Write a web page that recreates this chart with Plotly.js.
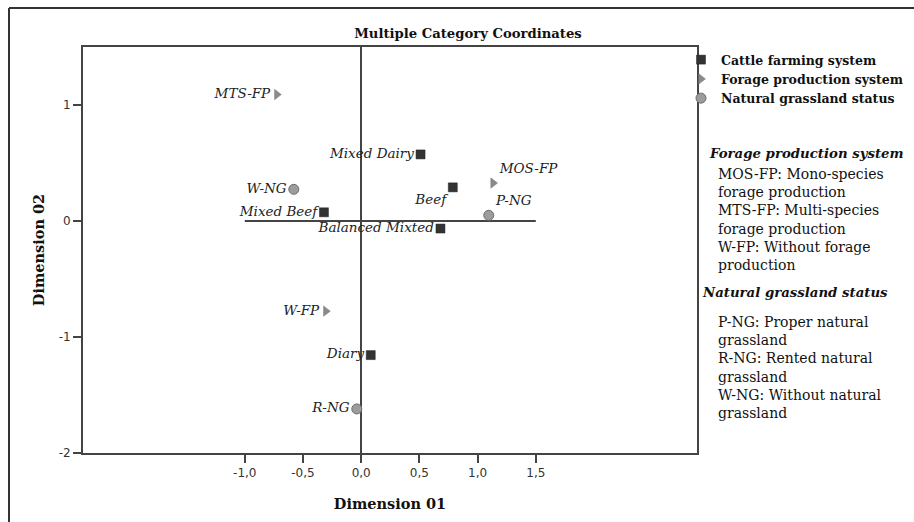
<!DOCTYPE html>
<html>
<head>
<meta charset="utf-8">
<script src="https://cdn.plot.ly/plotly-3.0.1.min.js"></script>
<style>html,body{margin:0;padding:0;background:#fff;}#chart{width:914px;height:522px;}</style>
</head>
<body>
<div id="chart"></div>
<script>
// ---- data ----
const cattleLabels = ['Mixed Dairy', 'Mixed Beef', 'Beef', 'Balanced Mixted', 'Diary'];
const cattleX = [0.51, -0.32, 0.787, 0.681, 0.082];
const cattleY = [0.574, 0.075, 0.29, -0.065, -1.156];

const forageLabels = ['MTS-FP', 'MOS-FP', 'W-FP'];
const forageX = [-0.725, 1.133, -0.304];
const forageY = [1.09, 0.327, -0.777];

const grassLabels = ['W-NG', 'P-NG', 'R-NG'];
const grassX = [-0.579, 1.096, -0.038];
const grassY = [0.273, 0.049, -1.62];

const xTickVals = [-1.0, -0.5, 0.0, 0.5, 1.0, 1.5];
const xTickText = ['-1,0', '-0,5', '0,0', '0,5', '1,0', '1,5'];
const yTickVals = [-2, -1, 0, 1];
const yTickText = ['-2', '-1', '0', '1'];

const seriesNames = ['Cattle farming system', 'Forage production system', 'Natural grassland status'];

const forageNote = 'MOS-FP: Mono-species<br>forage production<br>MTS-FP: Multi-species<br>forage production<br>W-FP: Without forage<br>production';
const grassNote = 'P-NG: Proper natural<br>grassland<br>R-NG: Rented natural<br>grassland<br>W-NG: Without natural<br>grassland';

// ---- styles (positions of labels) ----
const cattlePos = ['middle left', 'middle left', 'bottom left', 'middle left', 'middle left'];
const foragePos = ['middle left', 'top right', 'middle left'];
const grassPos = ['middle left', 'top right', 'middle left'];

const SERIF = 'DejaVu Serif, Liberation Serif, serif';
const SANS = 'DejaVu Sans, Liberation Sans, sans-serif';
const labelFont = {family: SERIF, size: 13.5, color: '#222', style: 'italic'};

const traces = [
  {
    type: 'scatter', mode: 'markers+text', name: seriesNames[0],
    x: cattleX, y: cattleY, text: cattleLabels, textposition: cattlePos,
    textfont: labelFont,
    marker: {symbol: 'square', size: 9, color: '#333333', line: {color: '#222', width: 0.5}},
    cliponaxis: false, hoverinfo: 'text'
  },
  {
    type: 'scatter', mode: 'markers+text', name: seriesNames[1],
    x: forageX, y: forageY, text: forageLabels, textposition: foragePos,
    textfont: labelFont,
    marker: {symbol: 'triangle-right', size: 9, color: '#8a8a8a', line: {color: '#7a7a7a', width: 0.5}},
    cliponaxis: false, hoverinfo: 'text'
  },
  {
    type: 'scatter', mode: 'markers+text', name: seriesNames[2],
    x: grassX, y: grassY, text: grassLabels, textposition: grassPos,
    textfont: labelFont,
    marker: {symbol: 'circle', size: 10, color: '#9c9c9c', line: {color: '#6e6e6e', width: 1}},
    cliponaxis: false, hoverinfo: 'text'
  }
];

// plot area in pixels: left 83, right 697, top 47, bottom 453
const L = 83, R = 697, T = 47, B = 453, W = 914, H = 522;
const px = v => (v - L) / (R - L);
const py = v => (B - v) / (B - T);

const layout = {
  width: W, height: H,
  margin: {l: L, r: W - R, t: T, b: H - B, pad: 0, autoexpand: false},
  paper_bgcolor: '#fff', plot_bgcolor: '#fff',
  showlegend: true,
  title: {
    text: 'Multiple Category Coordinates',
    xref: 'container', yref: 'container',
    x: 468 / W, y: 1 - 33 / H, xanchor: 'center', yanchor: 'middle',
    font: {family: SERIF, size: 13.2, color: '#111', weight: 'bold'}
  },
  xaxis: {
    range: [-2.39, 2.885],
    tickmode: 'array', tickvals: xTickVals, ticktext: xTickText,
    ticks: 'outside', ticklen: 8, tickwidth: 2, tickcolor: '#444',
    tickfont: {family: SANS, size: 12, color: '#333'},
    showline: true, linecolor: '#444', linewidth: 2, mirror: true,
    showgrid: false, zeroline: true, zerolinecolor: '#444', zerolinewidth: 2,
    title: {text: 'Dimension 01', standoff: 19,
      font: {family: SERIF, size: 14.5, color: '#111', weight: 'bold'}}
  },
  yaxis: {
    range: [-2, 1.5],
    tickmode: 'array', tickvals: yTickVals, ticktext: yTickText,
    ticks: 'outside', ticklen: 8, tickwidth: 2, tickcolor: '#444',
    tickfont: {family: SANS, size: 12, color: '#333'},
    showline: true, linecolor: '#444', linewidth: 2, mirror: true,
    showgrid: false, zeroline: false,
    title: {text: 'Dimension 02', standoff: 11,
      font: {family: SERIF, size: 14.5, color: '#111', weight: 'bold'}}
  },
  legend: {
    xref: 'container', yref: 'container',
    x: 681 / W, y: 1 - 45 / H, xanchor: 'left', yanchor: 'top',
    bgcolor: 'rgba(0,0,0,0)', borderwidth: 0,
    font: {family: SERIF, size: 12.5, color: '#111', weight: 'bold'},
    tracegroupgap: 0
  },
  shapes: [
    // horizontal reference line at y=0, spanning the labelled x ticks
    {type: 'line', xref: 'x', yref: 'y', x0: xTickVals[0], x1: xTickVals[xTickVals.length - 1], y0: 0, y1: 0,
      line: {color: '#444', width: 2}, layer: 'below'},
    // outer frame (left and top edges)
    {type: 'line', xref: 'paper', yref: 'paper', x0: px(9), x1: px(9), y0: py(H + 5), y1: py(8),
      line: {color: '#333', width: 2}},
    {type: 'line', xref: 'paper', yref: 'paper', x0: px(9), x1: px(W + 5), y0: py(8), y1: py(8),
      line: {color: '#333', width: 2}}
  ],
  annotations: [
    {xref: 'paper', yref: 'paper', x: px(707), y: py(153), xanchor: 'left', yanchor: 'middle',
      text: 'Forage production system', showarrow: false, align: 'left',
      font: {family: SERIF, size: 13.3, color: '#111', weight: 'bold', style: 'italic'}},
    {xref: 'paper', yref: 'paper', x: px(716), y: py(219.5), xanchor: 'left', yanchor: 'middle',
      text: forageNote, showarrow: false, align: 'left',
      font: {family: SERIF, size: 14, color: '#111'}},
    {xref: 'paper', yref: 'paper', x: px(700), y: py(292), xanchor: 'left', yanchor: 'middle',
      text: 'Natural grassland status', showarrow: false, align: 'left',
      font: {family: SERIF, size: 13.3, color: '#111', weight: 'bold', style: 'italic'}},
    {xref: 'paper', yref: 'paper', x: px(716), y: py(367), xanchor: 'left', yanchor: 'middle',
      text: grassNote, showarrow: false, align: 'left',
      font: {family: SERIF, size: 14, color: '#111'}}
  ]
};

Plotly.newPlot('chart', traces, layout, {displayModeBar: false, staticPlot: true});
</script>
</body>
</html>
